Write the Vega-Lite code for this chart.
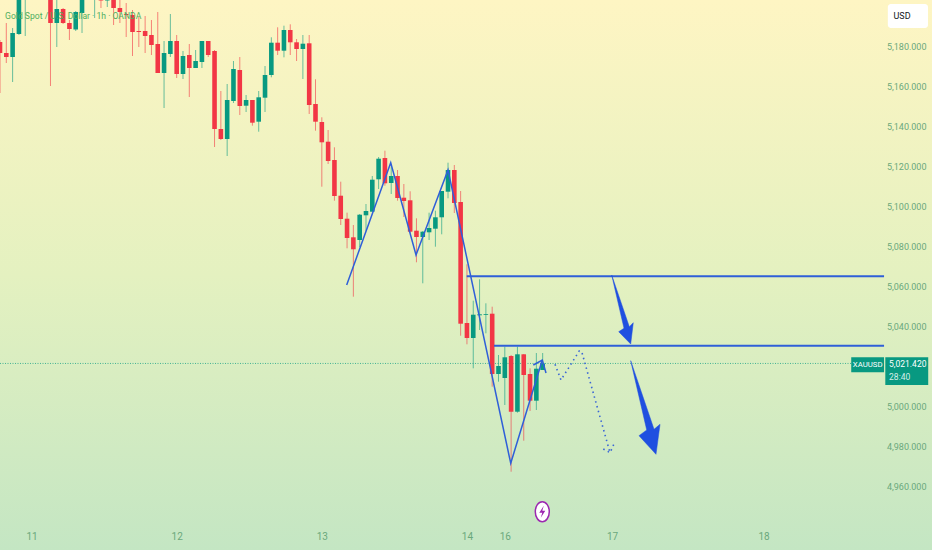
{
  "$schema": "https://vega.github.io/schema/vega-lite/v6.json",
  "width": 932,
  "height": 550,
  "padding": 0,
  "autosize": "none",
  "config": {"view": {"stroke": null}, "font": "Roboto"},
  "datasets": {
    "candles": [
      {"x":0,"open":5182.15,"close":5176.65,"high":5183.15,"low":5156.65},
      {"x":1,"open":5176.65,"close":5174.65,"high":5191.65,"low":5171.65},
      {"x":2,"open":5174.65,"close":5186.65,"high":5189.15,"low":5162.15},
      {"x":3,"open":5186.15,"close":5208.15,"high":5209.15,"low":5185.65},
      {"x":4,"open":5205.65,"close":5213.15,"high":5214.15,"low":5185.15},
      {"x":8,"open":5205.65,"close":5191.65,"high":5207,"low":5160.15},
      {"x":9,"open":5191.65,"close":5198.65,"high":5205,"low":5179.65},
      {"x":10,"open":5198.65,"close":5191.65,"high":5199.15,"low":5191.15},
      {"x":11,"open":5191.65,"close":5188.65,"high":5193.15,"low":5183.15},
      {"x":12,"open":5188.4,"close":5197.15,"high":5197.65,"low":5187.65},
      {"x":13,"open":5196.65,"close":5204.65,"high":5206,"low":5186.65},
      {"x":15,"open":5204.65,"close":5207.15,"high":5208,"low":5194.15},
      {"x":16,"open":5203.65,"close":5202.9,"high":5206,"low":5199.15},
      {"x":17,"open":5202.9,"close":5204.65,"high":5206,"low":5199.65},
      {"x":18,"open":5204.15,"close":5199.15,"high":5206,"low":5190.65},
      {"x":19,"open":5199.15,"close":5197.15,"high":5203.15,"low":5191.65},
      {"x":20,"open":5196.15,"close":5195.65,"high":5201.65,"low":5184.65},
      {"x":21,"open":5195.65,"close":5187.15,"high":5198.15,"low":5175.15},
      {"x":22,"open":5187.65,"close":5187.15,"high":5194.65,"low":5179.65},
      {"x":23,"open":5187.65,"close":5185.15,"high":5195.15,"low":5176.65},
      {"x":24,"open":5185.65,"close":5180.65,"high":5193.15,"low":5175.65},
      {"x":25,"open":5181.15,"close":5166.65,"high":5197.15,"low":5166.65},
      {"x":26,"open":5166.65,"close":5176.65,"high":5182.65,"low":5149.15},
      {"x":27,"open":5176.15,"close":5182.65,"high":5196.15,"low":5174.65},
      {"x":28,"open":5182.65,"close":5166.15,"high":5185.65,"low":5164.15},
      {"x":29,"open":5166.15,"close":5175.15,"high":5177.65,"low":5163.65},
      {"x":30,"open":5175.65,"close":5169.15,"high":5181.15,"low":5154.65},
      {"x":31,"open":5169.15,"close":5172.65,"high":5178.15,"low":5169.15},
      {"x":32,"open":5172.15,"close":5182.65,"high":5182.65,"low":5169.15},
      {"x":33,"open":5182.65,"close":5175.65,"high":5182.65,"low":5174.65},
      {"x":34,"open":5177.65,"close":5138.65,"high":5178.15,"low":5129.65},
      {"x":35,"open":5138.65,"close":5133.65,"high":5157.65,"low":5133.15},
      {"x":36,"open":5133.65,"close":5153.15,"high":5161.15,"low":5125.15},
      {"x":37,"open":5152.65,"close":5168.65,"high":5172.65,"low":5151.65},
      {"x":38,"open":5168.15,"close":5150.15,"high":5174.65,"low":5145.65},
      {"x":39,"open":5150.3,"close":5153.15,"high":5155.65,"low":5147.15},
      {"x":40,"open":5153.15,"close":5141.8,"high":5153.15,"low":5140.3},
      {"x":41,"open":5142.3,"close":5154.5,"high":5157.65,"low":5137.3},
      {"x":42,"open":5154.3,"close":5165.65,"high":5170.15,"low":5147.15},
      {"x":43,"open":5165.65,"close":5181.8,"high":5184.5,"low":5164.5},
      {"x":44,"open":5181.8,"close":5177.8,"high":5189.5,"low":5175.65},
      {"x":45,"open":5177.8,"close":5188.15,"high":5190.3,"low":5174.5},
      {"x":46,"open":5188.15,"close":5182,"high":5191,"low":5175.65},
      {"x":47,"open":5182,"close":5178.65,"high":5183.65,"low":5172.65},
      {"x":48,"open":5178.65,"close":5181.3,"high":5185.65,"low":5163.65},
      {"x":49,"open":5181.5,"close":5150.65,"high":5185.65,"low":5146.15},
      {"x":50,"open":5151.15,"close":5142.3,"high":5163.5,"low":5137.8},
      {"x":51,"open":5142.15,"close":5132,"high":5144.5,"low":5109.8},
      {"x":52,"open":5132.3,"close":5122.65,"high":5138.15,"low":5121.15},
      {"x":53,"open":5123.15,"close":5105.15,"high":5129.5,"low":5102.8},
      {"x":54,"open":5105.3,"close":5093.65,"high":5112.3,"low":5090.65},
      {"x":55,"open":5093.8,"close":5084.15,"high":5096.8,"low":5079},
      {"x":56,"open":5084.5,"close":5078.5,"high":5090.65,"low":5054.8},
      {"x":57,"open":5083.15,"close":5095.8,"high":5096.15,"low":5079.65},
      {"x":58,"open":5095.5,"close":5097.65,"high":5101.15,"low":5087.8},
      {"x":59,"open":5097.3,"close":5113.3,"high":5115.15,"low":5097.3},
      {"x":60,"open":5113.5,"close":5123.8,"high":5124.65,"low":5108.65},
      {"x":61,"open":5124.15,"close":5111.5,"high":5127.8,"low":5110.3},
      {"x":62,"open":5111.65,"close":5115.15,"high":5119.8,"low":5106.15},
      {"x":63,"open":5115.15,"close":5104.15,"high":5118.15,"low":5102.8},
      {"x":64,"open":5104.3,"close":5102.65,"high":5111.15,"low":5094.65},
      {"x":65,"open":5103,"close":5087.3,"high":5107.5,"low":5086.65},
      {"x":66,"open":5087.8,"close":5084.65,"high":5094,"low":5072},
      {"x":67,"open":5084.65,"close":5087.3,"high":5087.65,"low":5061.5},
      {"x":68,"open":5087,"close":5089.15,"high":5096.8,"low":5083.15},
      {"x":69,"open":5088.8,"close":5094.5,"high":5097.8,"low":5079.8},
      {"x":70,"open":5094.5,"close":5107.65,"high":5107.65,"low":5086},
      {"x":71,"open":5107.3,"close":5118.15,"high":5121.8,"low":5104},
      {"x":72,"open":5118.15,"close":5101.65,"high":5120.65,"low":5096.65},
      {"x":73,"open":5102.15,"close":5041.3,"high":5107.65,"low":5035.3},
      {"x":74,"open":5041.65,"close":5034.15,"high":5071,"low":5031},
      {"x":75,"open":5034.15,"close":5045.8,"high":5052.8,"low":5019},
      {"x":76,"open":5045.5,"close":5046,"high":5063.5,"low":5038.15},
      {"x":77,"open":5045.75,"close":5046.15,"high":5051.5,"low":5036.5},
      {"x":78,"open":5046.3,"close":5016.15,"high":5049.8,"low":5009.8},
      {"x":79,"open":5016.15,"close":5020.15,"high":5025.65,"low":5012.3},
      {"x":80,"open":5014.15,"close":5024.5,"high":5029.8,"low":5000.65},
      {"x":81,"open":5025.15,"close":4997.3,"high":5025.65,"low":4967.3},
      {"x":82,"open":4997.3,"close":5026,"high":5029.8,"low":4996.8},
      {"x":83,"open":5026,"close":5015.65,"high":5026.15,"low":4982.8},
      {"x":84,"open":5016.15,"close":5002.8,"high":5019,"low":4997.65},
      {"x":85,"open":5002.8,"close":5018.8,"high":5026.65,"low":4998.15},
      {"x":86,"open":5018.15,"close":5021.42,"high":5026.65,"low":5018.15}
    ],
    "drawn": [
      {"s":"zig","n":1,"x":54.94,"price":5060.65},
      {"s":"zig","n":2,"x":61.92,"price":5121.8},
      {"s":"zig","n":3,"x":65.93,"price":5075.65},
      {"s":"zig","n":4,"x":71,"price":5118.15},
      {"s":"zig","n":5,"x":80.94,"price":4971.5},
      {"s":"zig","n":6,"x":85.94,"price":5023.15},
      {"s":"hook","n":1,"x":84.52,"price":5020.65},
      {"s":"hook","n":2,"x":85.94,"price":5023.15},
      {"s":"hook","n":3,"x":86.53,"price":5016.65}
    ],
    "levels": [
      {"s":"upper","n":1,"x":73.96,"price":5065},
      {"s":"upper","n":2,"x":140.1,"price":5065},
      {"s":"lower","n":1,"x":78.29,"price":5030.3},
      {"s":"lower","n":2,"x":140.1,"price":5030.3}
    ],
    "projection": [
      {"s":"path","n":1,"x":87.96,"price":5021},
      {"s":"path","n":2,"x":88.9,"price":5013.15},
      {"s":"path","n":3,"x":91.8,"price":5027.65},
      {"s":"path","n":4,"x":92.19,"price":5027.3},
      {"s":"path","n":5,"x":96.67,"price":4976.8},
      {"s":"tip","n":1,"x":95.61,"price":4978.65},
      {"s":"tip","n":2,"x":96.67,"price":4976.8},
      {"s":"tip","n":3,"x":97.35,"price":4981.5}
    ],
    "arrows": [
      {"s":"a1","n":1,"x":96.94,"price":5065.65},
      {"s":"a1","n":2,"x":99.73,"price":5039.8},
      {"s":"a1","n":3,"x":100.36,"price":5041.8},
      {"s":"a1","n":4,"x":99.95,"price":5031.15},
      {"s":"a1","n":5,"x":98.05,"price":5037.3},
      {"s":"a1","n":6,"x":98.89,"price":5039},
      {"s":"a1","n":7,"x":96.94,"price":5065.65},
      {"s":"a2","n":1,"x":99.95,"price":5022.8},
      {"s":"a2","n":2,"x":103.65,"price":4988.5},
      {"s":"a2","n":3,"x":104.6,"price":4991},
      {"s":"a2","n":4,"x":103.96,"price":4976},
      {"s":"a2","n":5,"x":101.27,"price":4985.3},
      {"s":"a2","n":6,"x":102.49,"price":4988.15},
      {"s":"a2","n":7,"x":99.95,"price":5022.8}
    ]
  },
  "encoding": {
    "x": {
      "field": "x",
      "type": "quantitative",
      "scale": {"domain": [0, 147.7], "nice": false, "zero": false, "padding": 0},
      "axis": {
        "title": null,
        "orient": "bottom",
        "zindex": 1,
        "domain": false,
        "ticks": false,
        "grid": false,
        "values": [5, 28, 51, 74, 80, 97, 121],
        "labelExpr": "{'5':'11','28':'12','51':'13','74':'14','80':'16','97':'17','121':'18'}[datum.value]",
        "labelPadding": -19,
        "labelFontSize": 10,
        "labelColor": "#6aa87c",
        "labelFont": "Roboto"
      }
    },
    "y": {
      "field": "price",
      "type": "quantitative",
      "scale": {"domain": [4928.15, 5203.15], "nice": false, "zero": false},
      "axis": {
        "title": null,
        "orient": "right",
        "zindex": 1,
        "domain": false,
        "ticks": false,
        "grid": false,
        "values": [4960, 4980, 5000, 5040, 5060, 5080, 5100, 5120, 5140, 5160, 5180],
        "format": ",.3f",
        "labelAlign": "right",
        "labelPadding": -6,
        "labelFontSize": 9,
        "labelColor": "#6aa87c",
        "labelFont": "Roboto"
      }
    }
  },
  "layer": [
    {
      "data": {"values": [{"x": 0, "x2": 147.7, "price": 5203.15, "price2": 4928.15}]},
      "mark": {
        "type": "rect",
        "color": {
          "gradient": "linear",
          "x1": 0, "y1": 0, "x2": 0, "y2": 1,
          "stops": [
            {"offset": 0, "color": "#fef5c3"},
            {"offset": 0.5, "color": "#e4f1c0"},
            {"offset": 1, "color": "#c4e6c3"}
          ]
        }
      },
      "encoding": {"x2": {"field": "x2"}, "y2": {"field": "price2"}}
    },
    {
      "data": {"values": [{"s": "last", "n": 1, "x": 0, "price": 5021.42}, {"s": "last", "n": 2, "x": 134.9, "price": 5021.42}]},
      "mark": {"type": "line", "color": "#1fa58a", "strokeWidth": 0.8, "strokeDash": [1, 1.5]},
      "encoding": {}
    },
    {
      "data": {"name": "candles"},
      "mark": {"type": "rule", "strokeWidth": 1, "opacity": 0.6, "clip": true},
      "encoding": {
        "y": {
          "field": "high",
          "type": "quantitative",
          "axis": {
            "title": null,
            "orient": "right",
            "zindex": 1,
            "domain": false,
            "ticks": false,
            "grid": false,
            "values": [4960, 4980, 5000, 5040, 5060, 5080, 5100, 5120, 5140, 5160, 5180],
            "format": ",.3f",
            "labelAlign": "right",
            "labelPadding": -6,
            "labelFontSize": 9,
            "labelColor": "#6aa87c",
            "labelFont": "Roboto"
          }
        },
        "y2": {"field": "low"},
        "color": {"condition": {"test": "datum.open < datum.close", "value": "#089981"}, "value": "#f23645"}
      }
    },
    {
      "data": {"name": "candles"},
      "mark": {"type": "bar", "size": 4.6, "clip": true},
      "encoding": {
        "y": {
          "field": "open",
          "type": "quantitative",
          "axis": {
            "title": null,
            "orient": "right",
            "zindex": 1,
            "domain": false,
            "ticks": false,
            "grid": false,
            "values": [4960, 4980, 5000, 5040, 5060, 5080, 5100, 5120, 5140, 5160, 5180],
            "format": ",.3f",
            "labelAlign": "right",
            "labelPadding": -6,
            "labelFontSize": 9,
            "labelColor": "#6aa87c",
            "labelFont": "Roboto"
          }
        },
        "y2": {"field": "close"},
        "color": {"condition": {"test": "datum.open < datum.close", "value": "#089981"}, "value": "#f23645"}
      }
    },
    {
      "data": {"name": "drawn"},
      "mark": {"type": "line", "color": "#2f5fd8", "strokeWidth": 1.5},
      "encoding": {"detail": {"field": "s"}, "order": {"field": "n"}}
    },
    {
      "data": {"name": "levels"},
      "mark": {"type": "line", "color": "#2f5fd8", "strokeWidth": 2},
      "encoding": {"detail": {"field": "s"}, "order": {"field": "n"}}
    },
    {
      "data": {"name": "projection"},
      "mark": {"type": "line", "color": "#3a66d6", "strokeWidth": 1.6, "strokeDash": [1.5, 3.5]},
      "encoding": {"detail": {"field": "s"}, "order": {"field": "n"}}
    },
    {
      "data": {"name": "arrows"},
      "mark": {"type": "line", "stroke": "#1f4fe0", "fill": "#1f4fe0", "strokeWidth": 0.5},
      "encoding": {"detail": {"field": "s"}, "order": {"field": "n"}}
    },
    {
      "data": {"values": [{"x": 85.94, "price": 4947.3}]},
      "mark": {
        "type": "point",
        "shape": "M-0.7,0 A0.7,1 0 1,1 0.7,0 A0.7,1 0 1,1 -0.7,0 Z",
        "size": 400,
        "filled": true,
        "fill": "#ffffff",
        "stroke": "#9c27b0",
        "strokeWidth": 1.5,
        "opacity": 1
      }
    },
    {
      "data": {"values": [{"x": 85.94, "price": 4947.3}]},
      "mark": {
        "type": "point",
        "shape": "M0.15,-0.6 L-0.3,0.1 L0,0.1 L-0.15,0.6 L0.3,-0.1 L0,-0.1 Z",
        "size": 400,
        "filled": true,
        "fill": "#9c27b0",
        "strokeWidth": 0,
        "opacity": 1
      }
    },
    {
      "data": {"values": [{"x": 140.7, "x2": 147.07, "price": 5201.15, "price2": 5189.15}]},
      "mark": {"type": "rect", "color": "#ffffff", "cornerRadius": 3},
      "encoding": {"x2": {"field": "x2"}, "y2": {"field": "price2"}}
    },
    {
      "data": {"values": [
        {"x": 134.9, "x2": 140.1, "price": 5024.5, "price2": 5017},
        {"x": 140.3, "x2": 147.1, "price": 5024.5, "price2": 5010.65}
      ]},
      "mark": {"type": "rect", "color": "#089981"},
      "encoding": {"x2": {"field": "x2"}, "y2": {"field": "price2"}}
    },
    {
      "data": {"values": [{"x": 0.8, "price": 5195.15, "label": "Gold Spot / U.S. Dollar · 1h · OANDA"}]},
      "mark": {"type": "text", "align": "left", "baseline": "middle", "fontSize": 8.6, "color": "#4fae5f"},
      "encoding": {"text": {"field": "label"}}
    },
    {
      "data": {"values": [{"x": 141.6, "price": 5195.15, "label": "USD"}]},
      "mark": {"type": "text", "align": "left", "baseline": "middle", "fontSize": 9, "color": "#131722"},
      "encoding": {"text": {"field": "label"}}
    },
    {
      "data": {"values": [{"x": 135.15, "price": 5020.9, "label": "XAUUSD"}]},
      "mark": {"type": "text", "align": "left", "baseline": "middle", "fontSize": 7.8, "color": "#ffffff"},
      "encoding": {"text": {"field": "label"}}
    },
    {
      "data": {"values": [{"x": 140.9, "price": 5021.1, "label": "5,021.420"}]},
      "mark": {"type": "text", "align": "left", "baseline": "middle", "fontSize": 8.5, "color": "#ffffff"},
      "encoding": {"text": {"field": "label"}}
    },
    {
      "data": {"values": [{"x": 140.9, "price": 5014.8, "label": "28:40"}]},
      "mark": {"type": "text", "align": "left", "baseline": "middle", "fontSize": 8.5, "color": "#d5eee8"},
      "encoding": {"text": {"field": "label"}}
    }
  ]
}
